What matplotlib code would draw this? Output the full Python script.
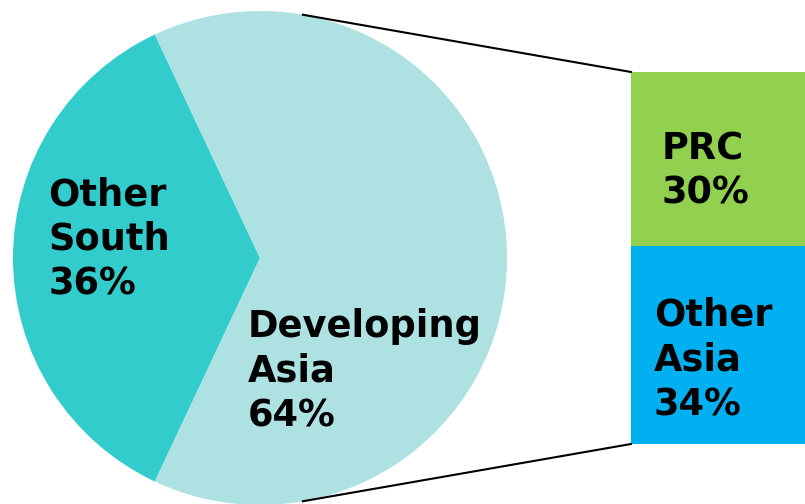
import numpy as np
from matplotlib import pyplot as plt

# pie: share of the South
pie_labels = ['Other\nSouth\n36%', 'Developing\nAsia\n64%']
pie_values = [36, 64]
pie_colors = ['#33CCCC', '#ADE1E2']

# bar: split of Developing Asia
bar_labels = ['Other\nAsia\n34%', 'PRC\n30%']
bar_values = [34, 30]
bar_colors = ['#00B0F0', '#92D050']

if __name__ == '__main__':
    fig = plt.figure(figsize=(8.05, 5.04), dpi=100)
    ax = fig.add_axes([0, 0, 1, 1])

    cx, cy, r = 260, 246, 247
    start = 180 - 360 * pie_values[0] / sum(pie_values) / 2
    ax.pie(pie_values, colors=pie_colors, startangle=start, center=(cx, cy),
           radius=r, frame=True, wedgeprops=dict(linewidth=0))
    ax.set_xlim(0, 805)
    ax.set_ylim(0, 504)
    ax.set_aspect('equal')
    ax.axis('off')

    # stacked bar
    bx, bw, btop, bbot = 631, 174, 432, 60
    scale = (btop - bbot) / sum(bar_values)
    bottom = bbot
    for v, c in zip(bar_values, bar_colors):
        ax.bar(bx + bw / 2, v * scale, width=bw, bottom=bottom, color=c, linewidth=0)
        bottom += v * scale

    # connector lines
    ang = np.deg2rad(80)
    ax.plot([cx + r * np.cos(ang), bx], [cy + r * np.sin(ang), btop], color='black', lw=1.5)
    ax.plot([cx + r * np.cos(ang), bx], [cy - r * np.sin(ang), bbot], color='black', lw=1.5)

    kw = dict(fontsize=26.5, fontweight='bold', family='DejaVu Sans', va='top', ha='left',
              linespacing=1.27)
    ax.text(48, 504 - 176, pie_labels[0], **kw)
    ax.text(248, 504 - 308, pie_labels[1], **kw)
    ax.text(662, 504 - 130, bar_labels[1], **kw)
    ax.text(654, 504 - 297, bar_labels[0], **kw)

    plt.savefig('out.png', dpi=100)
